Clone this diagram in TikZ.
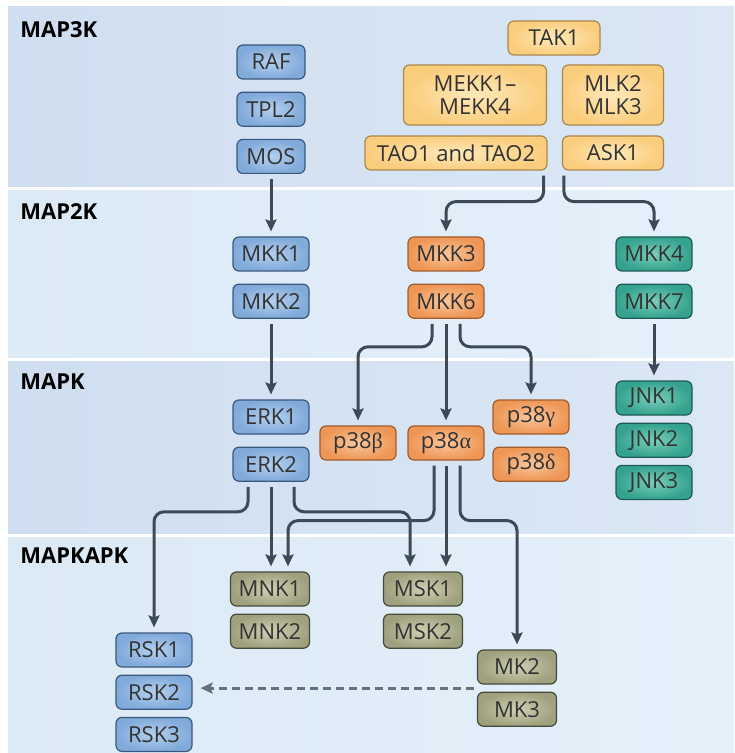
\documentclass[tikz,border=0pt]{standalone}
\usepackage{fontspec}
\setsansfont{Open Sans}
\newfontfamily\greekfont{Liberation Serif}
\usepackage{tikz}
\usetikzlibrary{positioning}
\usetikzlibrary{arrows.meta,shapes,positioning,calc,backgrounds}
\usepackage{xcolor}
\definecolor{banddarkL}{RGB}{207,222,240}
\definecolor{banddarkR}{RGB}{219,231,245}
\definecolor{bandlightL}{RGB}{220,234,246}
\definecolor{bandlightR}{RGB}{228,240,250}
\definecolor{arrowgrey}{RGB}{60,74,88}
\definecolor{dashgrey}{RGB}{100,114,127}
\definecolor{erkout}{RGB}{128,170,218}
\definecolor{erkin}{RGB}{180,207,237}
\definecolor{erkline}{RGB}{58,88,125}
\definecolor{mekkout}{RGB}{250,205,125}
\definecolor{mekkin}{RGB}{255,233,185}
\definecolor{mekkline}{RGB}{170,135,75}
\definecolor{pout}{RGB}{238,150,85}
\definecolor{pin}{RGB}{249,198,155}
\definecolor{pline}{RGB}{160,92,45}
\definecolor{jnkout}{RGB}{52,162,142}
\definecolor{jnkin}{RGB}{120,205,185}
\definecolor{jnkline}{RGB}{28,92,82}
\definecolor{mkout}{RGB}{158,160,126}
\definecolor{mkin}{RGB}{206,208,178}
\definecolor{mkline}{RGB}{70,74,58}
\tikzset{
  basic/.style  = {draw, rounded corners=3pt, line width=0.6pt, rectangle,
                   font=\sffamily\fontsize{11}{11.5}\selectfont, text=black!80,
                   minimum width=38pt, minimum height=17pt, inner sep=1pt, align=center},
  erk/.style    = {basic, draw=erkline, inner color=erkin, outer color=erkout},
  mekk/.style   = {basic, draw=mekkline, inner color=mekkin, outer color=mekkout},
  p38/.style    = {basic, draw=pline, inner color=pin, outer color=pout},
  jnk/.style    = {basic, draw=jnkline, inner color=jnkin, outer color=jnkout},
  mapkapk/.style = {basic, draw=mkline, inner color=mkin, outer color=mkout,
                   minimum width=39.5pt},
  band dark/.style  = {left color=banddarkL, right color=banddarkR},
  band light/.style = {left color=bandlightL, right color=bandlightR},
  lab/.style    = {anchor=west, inner sep=0pt, font=\sffamily\bfseries\fontsize{11}{12}\selectfont},
  arr/.style    = {draw=arrowgrey, line width=1.5pt, -{Stealth[length=6pt, width=5.5pt, inset=1pt]},
                   rounded corners=5pt, shorten <=2.5pt, shorten >=2.5pt},
  dasharr/.style = {draw=dashgrey, line width=1.5pt, -{Stealth[length=6pt, width=5.5pt, inset=1pt]},
                   dash pattern=on 4pt off 2.5pt, shorten <=1.5pt, shorten >=4pt}
}
\begin{document}
\begin{tikzpicture}[x=0.5pt, y=-0.5pt, node distance=6pt]
\useasboundingbox (0,0) rectangle (734,753);
% bands
\fill[band dark]  (8,7)   rectangle (734,187);
\fill[band light] (8,191) rectangle (734,357);
\fill[band dark]  (8,361) rectangle (734,533);
\fill[band light] (8,537) rectangle (734,753);
\node[lab] (lmap3k) at (20,30) {MAP3K};
\node[lab] (lmap2k) at (20,212) {MAP2K};
\node[lab] (lmapk) at (20,382) {MAPK};
\node[lab] (lmapkapk) at (20,556) {MAPKAPK};

% MAP3K
\node[erk, minimum width=34pt] (raf) at (271,62) {RAF};
\node[erk, minimum width=34pt, below= of raf] (tpl2) {TPL2};
\node[erk, minimum width=34pt, below= of tpl2] (mos) {MOS};
\node[mekk, minimum width=46pt] (tak1) at (554,38) {TAK1};
\node[mekk, minimum width=71.5pt, minimum height=30pt] (mekk) at (475,95) {MEKK1–\\MEKK4};
\node[mekk, minimum width=50.5pt, minimum height=30pt] (mlk) at (613,95) {MLK2\\MLK3};
\node[mekk, minimum width=91pt] (tao) at (456,153) {TAO1 and TAO2};
\node[mekk, minimum width=50.5pt] (ask1) at (613,153) {ASK1};

% MAP2K
\node[erk] (mkk1) at (271,254) {MKK1};
\node[erk, below= of mkk1] (mkk2) {MKK2};
\node[p38] (mkk3) at (446,254) {MKK3};
\node[p38, below= of mkk3] (mkk6) {MKK6};
\node[jnk] (mkk4) at (654,254) {MKK4};
\node[jnk, below= of mkk4] (mkk7) {MKK7};

% MAPK
\node[erk] (erk1) at (271,417) {ERK1};
\node[erk, below= of erk1] (erk2) {ERK2};
\node[p38] (p38b) at (358,443) {p38{\greekfont β}};
\node[p38] (p38a) at (446,443) {p38{\greekfont α}};
\node[p38] (p38g) at (531,417) {p38{\greekfont γ}};
\node[p38, below= of p38g] (p38d) {p38{\greekfont δ}};
\node[jnk] (jnk1) at (654,398) {JNK1};
\node[jnk, below=3.5pt of jnk1] (jnk2) {JNK2};
\node[jnk, below=3.5pt of jnk2] (jnk3) {JNK3};

% MAPKAPK
\node[mapkapk] (mnk1) at (270,589) {MNK1};
\node[mapkapk, below=3.5pt of mnk1] (mnk2) {MNK2};
\node[mapkapk] (msk1) at (423,589) {MSK1};
\node[mapkapk, below=3.5pt of msk1] (msk2) {MSK2};
\node[erk] (rsk1) at (154,650) {RSK1};
\node[erk, below=3.5pt of rsk1] (rsk2) {RSK2};
\node[erk, below=3.5pt of rsk2] (rsk3) {RSK3};
\node[mapkapk] (mk2) at (517,667) {MK2};
\node[mapkapk, below=3.5pt of mk2] (mk3) {MK3};
\coordinate (mkgap) at ($(mk2.south west)!0.5!(mk3.north west)$);

\path [arr] (mos) -- (mkk1);
\path [arr] ([xshift=-2pt]tao.south east) -- ++(0,31) -| (mkk3);
\path [arr] ([xshift=1pt]ask1.south west) -- ++(0,31) -| (mkk4);

\path [arr] (mkk2) -- (erk1);
\path [arr] ([xshift=-7pt]mkk6.south) -- ++(0,28) -| (p38b);
\path [arr] (mkk6) -- (p38a);
\path [arr] ([xshift=7pt]mkk6.south) -- ++(0,28) -| (p38g);
\path [arr] (mkk7) -- (jnk1);

\path [arr] ([xshift=-11.5pt]erk2.south) -- ++(0,30) -| (rsk1);
\path [arr] (erk2) -- (erk2 |- mnk1.north);
\path [arr] ([xshift=11.5pt]erk2.south) -- ++(0,30) -| ([xshift=-6.5pt]msk1.north);
\path [arr] ([xshift=-6pt]p38a.south) -- ++(0,60) -| ([xshift=9pt]mnk1.north);
\path [arr] (p38a) -- (p38a |- msk1.north);
\path [arr] ([xshift=7pt]p38a.south) -- ++(0,60) -| (mk2);

\path [dasharr] (mkgap) -- (mkgap -| rsk2.east);

\end{tikzpicture}
\end{document}
